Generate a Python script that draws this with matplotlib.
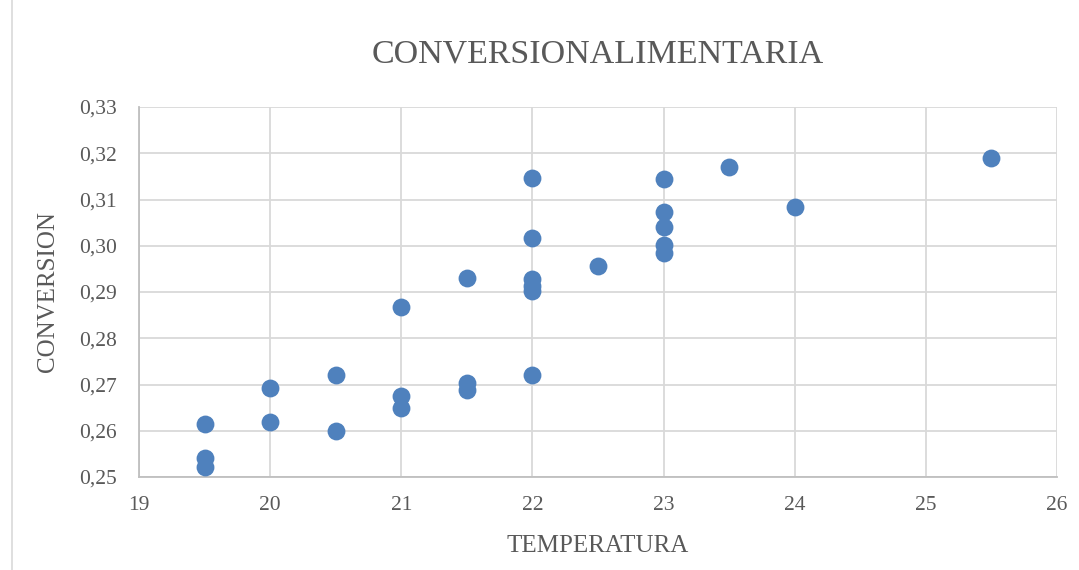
import matplotlib
matplotlib.use("Agg")
from matplotlib import pyplot as plt
from matplotlib.ticker import FuncFormatter, MultipleLocator
from matplotlib.patches import Rectangle

# Temperature and conversion values
temperatura = [19.5, 19.5, 19.5,
               20, 20,
               20.5, 20.5,
               21, 21, 21,
               21.5, 21.5, 21.5,
               22, 22, 22, 22, 22, 22,
               22.5,
               23, 23, 23, 23, 23,
               23.5, 24, 25.5]
conversion = [0.2614, 0.2541, 0.2521,
              0.2692, 0.2618,
              0.2721, 0.2600,
              0.2868, 0.2676, 0.2650,
              0.2931, 0.2704, 0.2688,
              0.3146, 0.3016, 0.2928, 0.2912, 0.2902, 0.2721,
              0.2956,
              0.3144, 0.3072, 0.3040, 0.3002, 0.2985,
              0.3171, 0.3083, 0.3189]

text_color = "#595959"
grid_color = "#d9d9d9"
plt.rcParams['font.family'] = ['Liberation Serif', 'DejaVu Serif']

fig = plt.figure(figsize=(10.79, 5.70), dpi=100)
ax = fig.add_axes([139 / 1079, 1 - 477 / 570, (1057 - 139) / 1079, (477 - 107) / 570])

# light frame around the chart area
fig.patches.append(Rectangle((12 / 1079, -0.01), 1.2, 1.2, transform=fig.transFigure,
                             fill=False, edgecolor=grid_color, linewidth=1.2))

ax.scatter(temperatura, conversion, s=165, color="#4f81bd", zorder=3, linewidths=0)

ax.set_xlim(19, 26)
ax.set_ylim(0.25, 0.33)
ax.xaxis.set_major_locator(MultipleLocator(1))
ax.yaxis.set_major_locator(MultipleLocator(0.01))
ax.yaxis.set_major_formatter(FuncFormatter(lambda v, p: f"{v:.2f}".replace(".", ",")))
ax.grid(True, color=grid_color, linewidth=1.3)
ax.set_axisbelow(True)

for side in ["top", "right"]:
    ax.spines[side].set_visible(False)
for side in ["left", "bottom"]:
    ax.spines[side].set_color("#bfbfbf")
    ax.spines[side].set_linewidth(1.3)

ax.tick_params(axis='both', length=0, labelsize=15.5, colors=text_color)
ax.tick_params(axis='y', pad=16)
ax.tick_params(axis='x', pad=14)

ax.set_title("CONVERSIONALIMENTARIA", fontsize=24.5, color=text_color, pad=32)
ax.set_xlabel("TEMPERATURA", fontsize=18, color=text_color, labelpad=14)
ax.set_ylabel("CONVERSION", fontsize=18, color=text_color, labelpad=14)

fig.savefig("out.png", dpi=100)
